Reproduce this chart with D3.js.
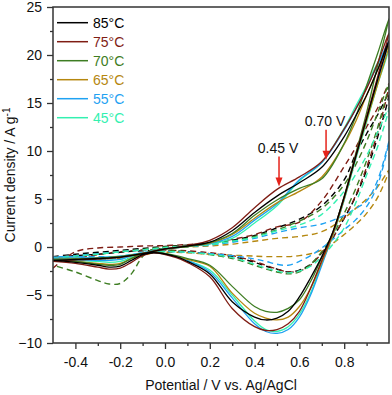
<!DOCTYPE html>
<html>
<head>
<meta charset="utf-8">
<script src="https://cdn.jsdelivr.net/npm/d3@7"></script>
<style>
  body { margin: 0; background: #fff; }
  svg { font-family: "Liberation Sans", Arial, sans-serif; }
</style>
</head>
<body>
<div id="chart"></div>
<script>
// temperatures and their colours
var temps = ["85°C", "75°C", "70°C", "65°C", "55°C", "45°C"];
var colors = ["#000000", "#7f1d14", "#3e7d23", "#b5870f", "#1fa2f2", "#33f0b0"];

// potential grid for the forward (anodic) sweep, ending at the vertex
var vUp = [-0.5, -0.4, -0.3, -0.2, -0.1, 0, 0.1, 0.2, 0.3, 0.4, 0.5, 0.6, 0.7, 0.8, 0.85, 0.9, 0.95, 1.0];
// potential grid for the reverse (cathodic) sweep, after the vertex
var vDown = [0.95, 0.9, 0.85, 0.8, 0.75, 0.7, 0.65, 0.6, 0.55, 0.5, 0.45, 0.4, 0.3, 0.2, 0.1, 0.05, -0.05, -0.1, -0.15, -0.2, -0.25, -0.3, -0.4, -0.5];

// solid curves, current density (A/g)
var solidUp = [
  [-1.4, -1.3, -1.2, -1.05, -0.7, -0.2, 0.1, 0.5, 1.7, 3.6, 5.3, 6.7, 8.3, 11.5, 13.6, 15.8, 18.5, 21.5],
  [-1.5, -1.35, -1.25, -1.1, -0.7, -0.2, 0.15, 0.7, 2.0, 4.1, 6.0, 7.3, 8.9, 12.3, 14.3, 16.5, 19.2, 22.3],
  [-1.3, -1.25, -1.15, -1.0, -0.65, -0.2, 0.05, 0.45, 1.4, 3.3, 4.9, 6.1, 7.1, 10.8, 13.5, 16.8, 20.2, 23.8],
  [-1.3, -1.25, -1.15, -1.0, -0.65, -0.2, 0.05, 0.4, 1.3, 3.0, 4.6, 5.8, 7.3, 10.7, 13.0, 15.8, 18.5, 21.0],
  [-1.2, -1.15, -1.1, -0.95, -0.6, -0.2, 0.05, 0.35, 1.1, 2.8, 4.5, 7.0, 8.8, 12.2, 14.3, 16.6, 19.0, 21.5],
  [-1.25, -1.2, -1.1, -0.95, -0.6, -0.2, 0.05, 0.3, 0.9, 2.5, 4.3, 6.9, 8.8, 12.4, 14.6, 16.8, 19.2, 20.8]
];
var solidDown = [
  [17.5, 13.4, 9.3, 5.2, 1.6, -1.0, -3.2, -5.2, -6.7, -7.4, -7.6, -7.3, -5.7, -2.8, -1.5, -1.0, -0.6, -0.8, -1.4, -2.0, -2.1, -1.9, -1.6, -1.4],
  [17.8, 13.6, 9.4, 5.2, 1.5, -1.4, -4.3, -6.7, -8.0, -8.6, -8.7, -8.3, -6.4, -3.1, -1.6, -1.1, -0.6, -0.9, -1.6, -2.2, -2.3, -2.1, -1.7, -1.5],
  [19.0, 14.0, 9.6, 5.3, 1.6, -1.1, -3.6, -5.5, -6.4, -6.8, -6.7, -6.2, -4.1, -1.9, -1.2, -0.9, -0.5, -0.7, -1.2, -1.8, -1.9, -1.8, -1.5, -1.3],
  [17.0, 13.2, 9.2, 5.0, 1.3, -1.6, -4.3, -6.2, -7.3, -7.6, -7.4, -6.9, -4.8, -2.0, -1.3, -1.0, -0.5, -0.7, -1.2, -1.7, -1.8, -1.7, -1.5, -1.3],
  [17.3, 13.3, 9.2, 5.0, 1.3, -1.9, -5.0, -7.3, -8.6, -9.0, -8.8, -8.0, -5.3, -2.6, -1.4, -1.0, -0.5, -0.6, -0.9, -1.3, -1.4, -1.4, -1.3, -1.2],
  [17.0, 13.0, 9.0, 4.9, 1.2, -1.7, -4.8, -7.0, -8.3, -8.8, -8.6, -7.7, -5.0, -2.4, -1.4, -1.0, -0.5, -0.6, -1.1, -1.5, -1.6, -1.5, -1.4, -1.25]
];

// dashed curves, current density (A/g)
var dashUp = [
  [-1.0, -0.75, -0.55, -0.35, -0.15, 0.05, 0.2, 0.35, 0.7, 1.2, 2.0, 2.9, 4.3, 7.0, 9.6, 11.8, 13.8, 16.0],
  [-2.2, -0.5, -0.1, 0.0, 0.1, 0.15, 0.25, 0.4, 0.8, 1.3, 2.1, 2.6, 4.8, 8.4, 10.3, 12.5, 14.5, 17.0],
  [-1.3, -1.0, -0.75, -0.5, -0.25, 0.0, 0.15, 0.3, 0.6, 1.1, 1.8, 2.7, 4.0, 6.5, 8.5, 11.0, 14.0, 17.0],
  [-1.1, -0.9, -0.7, -0.5, -0.3, -0.1, 0.0, 0.1, 0.3, 0.6, 0.9, 1.1, 1.6, 3.0, 4.0, 5.0, 6.3, 8.0],
  [-1.1, -0.9, -0.7, -0.5, -0.3, -0.1, 0.05, 0.2, 0.5, 0.9, 1.5, 2.0, 2.4, 3.3, 4.0, 4.8, 7.0, 11.0],
  [-1.2, -0.95, -0.75, -0.5, -0.3, -0.05, 0.1, 0.25, 0.6, 1.0, 1.7, 2.3, 3.4, 5.8, 7.5, 9.5, 12.0, 14.5]
];
var dashDown = [
  [11.5, 8.0, 5.2, 3.0, 1.0, -0.6, -1.8, -2.4, -2.6, -2.3, -2.0, -1.6, -1.0, -0.7, -0.5, -0.45, -0.4, -0.4, -0.45, -0.55, -0.65, -0.75, -0.9, -1.1],
  [12.0, 8.3, 5.3, 3.0, 1.0, -0.6, -1.9, -2.5, -2.6, -2.3, -1.9, -1.5, -0.9, -0.6, -0.4, -0.35, -0.3, -0.3, -0.4, -0.5, -0.6, -0.8, -1.2, -1.5],
  [12.5, 9.0, 6.0, 3.5, 1.3, -0.5, -1.8, -2.6, -2.8, -2.6, -2.3, -1.9, -1.2, -0.8, -0.5, -0.4, -0.2, -1.0, -2.8, -3.8, -3.85, -3.5, -2.6, -1.9],
  [5.2, 3.5, 2.3, 1.3, 0.4, -0.3, -0.7, -0.9, -1.0, -1.0, -1.0, -0.95, -0.85, -0.75, -0.6, -0.55, -0.6, -0.9, -1.15, -1.2, -1.2, -1.2, -1.15, -1.1],
  [6.5, 4.2, 2.8, 1.8, 0.8, -0.1, -0.9, -1.5, -1.9, -1.8, -1.5, -1.25, -0.9, -0.7, -0.55, -0.5, -0.5, -0.7, -0.9, -1.0, -1.0, -1.0, -1.0, -1.0],
  [10.5, 7.5, 4.5, 2.0, 0.3, -1.0, -2.0, -2.5, -2.7, -2.5, -2.2, -1.8, -1.1, -0.75, -0.55, -0.5, -0.5, -0.7, -1.0, -1.2, -1.25, -1.25, -1.2, -1.2]
];

// axis ticks
var xTicks = [-0.4, -0.2, 0.0, 0.2, 0.4, 0.6, 0.8];
var xMinor = [-0.3, -0.1, 0.1, 0.3, 0.5, 0.7, 0.9];
var yTicks = [-10, -5, 0, 5, 10, 15, 20, 25];
var yMinor = [-7.5, -2.5, 2.5, 7.5, 12.5, 17.5, 22.5];

// peak markers
var peakLabels = ["0.45 V", "0.70 V"];
var peakV = [0.509, 0.719];
var peakI = [6.3, 9.1];

var width = 392, height = 395;
var margin = { top: 7, right: 3, bottom: 52, left: 53 };

var svg = d3.select("#chart").append("svg")
  .attr("width", width)
  .attr("height", height);

var x = d3.scaleLinear().domain([-0.5, 1.0]).range([margin.left, width - margin.right]);
var y = d3.scaleLinear().domain([-10, 25]).range([height - margin.bottom, margin.top]);

svg.append("clipPath").attr("id", "plot-clip")
  .append("rect")
  .attr("x", x(-0.5)).attr("y", y(25))
  .attr("width", x(1.0) - x(-0.5)).attr("height", y(-10) - y(25));

var line = d3.line()
  .x(function (d) { return x(d[0]); })
  .y(function (d) { return y(d[1]); })
  .curve(d3.curveCatmullRom.alpha(0.5));

function loop(up, down) {
  var pts = vUp.map(function (v, j) { return [v, up[j]]; });
  return pts.concat(vDown.map(function (v, j) { return [v, down[j]]; }));
}

var plot = svg.append("g").attr("clip-path", "url(#plot-clip)");

// dashed loops first, solid loops on top
temps.forEach(function (t, i) {
  plot.append("path")
    .attr("d", line(loop(dashUp[i], dashDown[i])))
    .attr("fill", "none")
    .attr("stroke", colors[i])
    .attr("stroke-width", 1.4)
    .attr("stroke-dasharray", "6,4");
});
for (var i = temps.length - 1; i >= 0; i--) {
  plot.append("path")
    .attr("d", line(loop(solidUp[i], solidDown[i])))
    .attr("fill", "none")
    .attr("stroke", colors[i])
    .attr("stroke-width", 1.3);
}

// axes
var axisColor = "#333";
var gx = svg.append("g").attr("transform", "translate(0," + y(-10) + ")")
  .call(d3.axisBottom(x).tickValues(xTicks).tickSize(6).tickPadding(8)
    .tickFormat(function (d) { return d.toFixed(1); }));
svg.append("g").attr("transform", "translate(0," + y(-10) + ")")
  .call(d3.axisBottom(x).tickValues(xMinor).tickSize(3).tickFormat(""));
var gy = svg.append("g").attr("transform", "translate(" + x(-0.5) + ",0)")
  .call(d3.axisLeft(y).tickValues(yTicks).tickSize(6).tickPadding(5));
svg.append("g").attr("transform", "translate(" + x(-0.5) + ",0)")
  .call(d3.axisLeft(y).tickValues(yMinor).tickSize(3).tickFormat(""));

svg.selectAll(".domain").remove();
svg.selectAll(".tick line").attr("stroke", axisColor).attr("stroke-width", 1.3);
svg.selectAll(".tick text").attr("fill", "#111").style("font-size", "14px")
  .style("font-family", "'Liberation Sans', Arial, sans-serif");

// frame
svg.append("rect")
  .attr("x", x(-0.5)).attr("y", y(25))
  .attr("width", x(1.0) - x(-0.5)).attr("height", y(-10) - y(25))
  .attr("fill", "none")
  .attr("stroke", axisColor)
  .attr("stroke-width", 1.5);

// axis titles
svg.append("text")
  .attr("x", (x(-0.5) + x(1.0)) / 2)
  .attr("y", 390)
  .attr("text-anchor", "middle")
  .style("font-size", "14px")
  .attr("fill", "#111")
  .text("Potential / V vs. Ag/AgCl");

var yl = svg.append("text")
  .attr("transform", "translate(15," + ((y(25) + y(-10)) / 2) + ") rotate(-90)")
  .attr("text-anchor", "middle")
  .style("font-size", "14px")
  .attr("fill", "#111");
yl.append("tspan").text("Current density / A g");
yl.append("tspan").attr("dy", -5).style("font-size", "10px").text("-1");

// legend
var legend = svg.append("g");
temps.forEach(function (t, i) {
  var ly = 22.7 + i * 19;
  legend.append("line")
    .attr("x1", 57).attr("x2", 88)
    .attr("y1", ly).attr("y2", ly)
    .attr("stroke", colors[i])
    .attr("stroke-width", 1.5);
  legend.append("text")
    .attr("x", 93).attr("y", ly + 5)
    .attr("fill", colors[i])
    .style("font-size", "14px")
    .text(t);
});

// peak arrows
var red = "#e5231b";
peakLabels.forEach(function (lab, k) {
  var px = x(peakV[k]), py = y(peakI[k]);
  svg.append("line")
    .attr("x1", px).attr("x2", px)
    .attr("y1", py - 30).attr("y2", py - 8)
    .attr("stroke", red).attr("stroke-width", 1.5);
  svg.append("path")
    .attr("d", "M" + (px - 3.5) + "," + (py - 9) + "L" + (px + 3.5) + "," + (py - 9) + "L" + px + "," + py + "Z")
    .attr("fill", red);
  svg.append("text")
    .attr("x", px - 1).attr("y", py - 34)
    .attr("text-anchor", "middle")
    .style("font-size", "14px")
    .attr("fill", "#111")
    .text(lab);
});
</script>
</body>
</html>
